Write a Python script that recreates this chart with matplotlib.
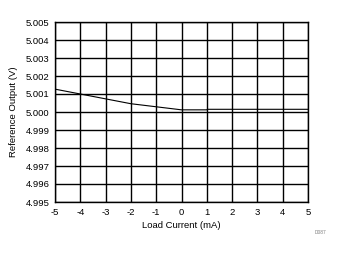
import matplotlib
matplotlib.use("Agg")
import matplotlib.pyplot as plt
import numpy as np

# data
load_ma = [-5, -4, -3, -2, -1, 0, 1, 1.02, 5]
vout = [5.00127, 5.00100, 5.00073, 5.00046, 5.00029, 5.00012, 5.00012, 5.00015, 5.00015]

xticks = np.arange(-5, 6, 1)
yticks = [4.995, 4.996, 4.997, 4.998, 4.999, 5.000, 5.001, 5.002, 5.003, 5.004, 5.005]

plt.rcParams['font.family'] = ['Liberation Sans', 'DejaVu Sans']
plt.rcParams['axes.unicode_minus'] = False

fig = plt.figure(figsize=(3.42, 2.54), dpi=100)
ax = fig.add_axes([55 / 342, 1 - 202 / 254, 253 / 342, 180 / 254])

ax.plot(load_ma, vout, color='black', lw=0.8)

ax.set_xlim(-5, 5)
ax.set_ylim(4.995, 5.005)
ax.set_xticks(xticks)
ax.set_yticks(yticks)
ax.set_yticklabels([f"{v:.3f}" for v in yticks])
ax.grid(True, color='black', lw=1.0)
ax.tick_params(length=0, labelsize=6.8, pad=4)
for s in ax.spines.values():
    s.set_linewidth(1.0)

ax.set_xlabel('Load Current (mA)', fontsize=6.8, labelpad=3)
ax.set_ylabel('Reference Output (V)', fontsize=6.8, labelpad=5)

fig.text(326 / 342, 1 - 233 / 254, 'D087', fontsize=3.5, color='gray', ha='right', va='center')

fig.savefig('out.png', dpi=100)
